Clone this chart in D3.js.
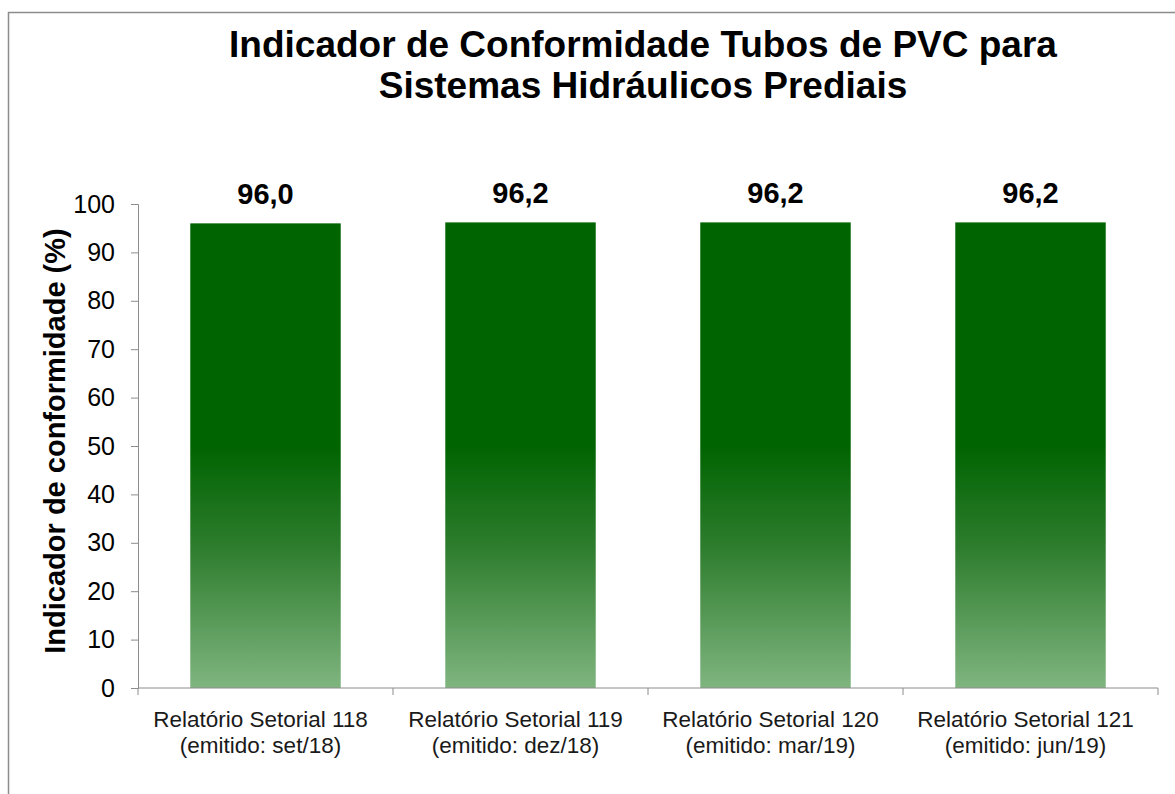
<!DOCTYPE html>
<html>
<head>
<meta charset="utf-8">
<script src="https://cdn.jsdelivr.net/npm/d3@7"></script>
<style>
  body { margin: 0; background: #fff; }
  text { font-family: "Liberation Sans", Arial, sans-serif; }
</style>
</head>
<body>
<div id="chart"></div>
<script>
// data
var reports = ["Relatório Setorial 118", "Relatório Setorial 119", "Relatório Setorial 120", "Relatório Setorial 121"];
var issued = ["(emitido: set/18)", "(emitido: dez/18)", "(emitido: mar/19)", "(emitido: jun/19)"];
var values = [96.0, 96.2, 96.2, 96.2];
var yTicks = [0, 10, 20, 30, 40, 50, 60, 70, 80, 90, 100];

var svgWidth = 1175;
var svgHeight = 794;

var margin = { top: 204, right: 17, bottom: 106, left: 138 };
var width = svgWidth - margin.left - margin.right;
var height = svgHeight - margin.top - margin.bottom;

var svg = d3.select("#chart")
  .append("svg")
  .attr("width", svgWidth)
  .attr("height", svgHeight);

// outer frame
svg.append("rect")
  .attr("x", 8.5)
  .attr("y", 12.5)
  .attr("width", 1180)
  .attr("height", 800)
  .attr("fill", "none")
  .attr("stroke", "#8c8c8c")
  .attr("stroke-width", 1.5);

// bar gradient
var grad = svg.append("defs").append("linearGradient")
  .attr("id", "barGrad")
  .attr("x1", 0).attr("y1", 0)
  .attr("x2", 0).attr("y2", 1);
grad.append("stop").attr("offset", "0%").attr("stop-color", "#006400");
grad.append("stop").attr("offset", "48%").attr("stop-color", "#006400");
grad.append("stop").attr("offset", "70%").attr("stop-color", "#2e7d2e");
grad.append("stop").attr("offset", "100%").attr("stop-color", "#80b580");

// title
var title = svg.append("text")
  .attr("text-anchor", "middle")
  .attr("font-weight", "bold")
  .attr("font-size", 37)
  .attr("fill", "#000");
title.append("tspan").attr("x", 643).attr("y", 57).text("Indicador de Conformidade Tubos de PVC para");
title.append("tspan").attr("x", 643).attr("y", 98).text("Sistemas Hidráulicos Prediais");

var chartGroup = svg.append("g")
  .attr("transform", `translate(${margin.left}, ${margin.top})`);

var xScale = d3.scaleBand()
  .domain(reports)
  .range([0, width])
  .paddingInner(0.41)
  .paddingOuter(0.205);

var yScale = d3.scaleLinear()
  .domain([0, 100])
  .range([height, 0]);

// bars
chartGroup.selectAll(".bar")
  .data(values)
  .enter()
  .append("rect")
  .attr("class", "bar")
  .attr("x", (d, i) => xScale(reports[i]))
  .attr("y", d => yScale(d))
  .attr("width", xScale.bandwidth())
  .attr("height", d => height - yScale(d))
  .attr("fill", "url(#barGrad)");

// value labels
chartGroup.selectAll(".val")
  .data(values)
  .enter()
  .append("text")
  .attr("class", "val")
  .attr("x", (d, i) => xScale(reports[i]) + xScale.bandwidth() / 2)
  .attr("y", d => yScale(d) - 19)
  .attr("text-anchor", "middle")
  .attr("font-weight", "bold")
  .attr("font-size", 29)
  .attr("fill", "#000")
  .text(d => d.toFixed(1).replace(".", ","));

// y axis
var leftAxis = d3.axisLeft(yScale).tickValues(yTicks).tickSize(7).tickPadding(16);
var yAxis = chartGroup.append("g").call(leftAxis);
yAxis.select(".domain").attr("stroke", "#8c8c8c");
yAxis.selectAll(".tick line").attr("stroke", "#8c8c8c");
yAxis.selectAll(".tick text")
  .attr("font-size", 25)
  .attr("fill", "#000")
  .style("font-family", "Liberation Sans, Arial, sans-serif");

// x axis: line with ticks at category boundaries
var xAxis = chartGroup.append("g").attr("transform", `translate(0, ${height})`);
xAxis.append("line")
  .attr("x1", 0).attr("x2", width)
  .attr("y1", 0).attr("y2", 0)
  .attr("stroke", "#8c8c8c");
var step = xScale.step();
var bounds = d3.range(reports.length + 1).map(i => xScale(reports[0]) - xScale.paddingOuter() * step + i * step);
xAxis.selectAll(".xtick")
  .data(bounds)
  .enter()
  .append("line")
  .attr("x1", d => d).attr("x2", d => d)
  .attr("y1", 0).attr("y2", 7)
  .attr("stroke", "#8c8c8c");

var xLabels = xAxis.selectAll(".xlab")
  .data(reports)
  .enter()
  .append("text")
  .attr("class", "xlab")
  .attr("text-anchor", "middle")
  .attr("font-size", 22.5)
  .attr("fill", "#1a1a1a");
xLabels.append("tspan")
  .attr("x", d => xScale(d) + xScale.bandwidth() / 2 - 5)
  .attr("y", 39)
  .text(d => d);
xLabels.append("tspan")
  .attr("x", d => xScale(d) + xScale.bandwidth() / 2 - 5)
  .attr("y", 65)
  .text((d, i) => issued[i]);

// y axis title
chartGroup.append("text")
  .attr("transform", "rotate(-90)")
  .attr("x", -237)
  .attr("y", -73)
  .attr("text-anchor", "middle")
  .attr("font-weight", "bold")
  .attr("font-size", 29)
  .attr("fill", "#000")
  .text("Indicador de conformidade (%)");
</script>
</body>
</html>
